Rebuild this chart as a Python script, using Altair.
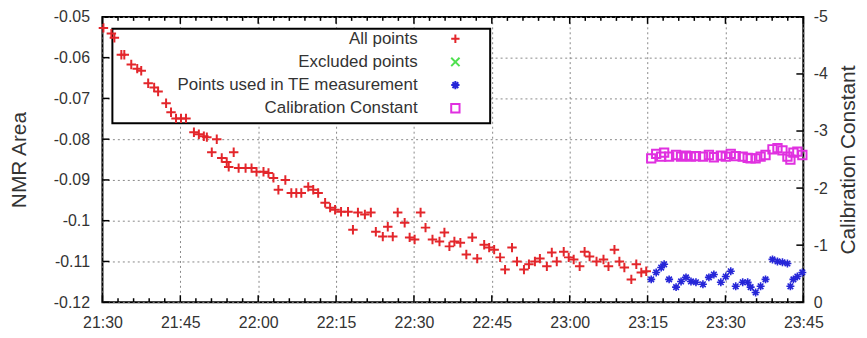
import altair as alt
import pandas as pd

# ---------------- data (minutes after 21:30) ----------------
red_t = [0.19, 1.72, 2.30, 3.64, 4.21, 5.55, 6.70, 7.47, 8.81, 9.96,
         10.72, 12.26, 13.21, 14.17, 15.13, 16.09, 17.62, 18.57, 19.53, 20.11,
         21.06, 22.02, 22.98, 23.94, 24.32, 25.28, 26.23, 27.57, 28.72, 29.68,
         31.02, 31.98, 32.94, 33.89, 35.23, 36.38, 37.34, 38.30, 39.64, 40.60,
         41.55, 42.89, 43.85, 44.81, 45.96, 47.30, 48.25, 49.21, 50.55, 51.70,
         52.66, 54.00, 54.96, 55.92, 56.87, 58.21, 59.17, 60.13, 61.28, 62.23,
         63.57, 64.92, 65.87, 66.83, 67.79, 68.94, 70.09, 71.23, 72.19, 73.53,
         74.49, 75.45, 76.60, 77.55, 78.89, 79.85, 81.19, 82.15, 83.30, 84.26,
         85.60, 86.55, 87.51, 88.85, 89.81, 90.77, 91.92, 92.87, 93.83, 95.17,
         96.51, 97.47, 98.62, 99.57, 100.53, 101.87, 102.83, 103.79, 104.74]
red_v = [-0.0527, -0.0541, -0.0551, -0.0593, -0.0593, -0.0617, -0.0627, -0.0632, -0.0663, -0.0673,
         -0.0683, -0.0712, -0.0734, -0.0749, -0.0749, -0.0749, -0.0783, -0.0788, -0.0793, -0.0795,
         -0.0832, -0.0800, -0.0846, -0.0856, -0.0868, -0.0832, -0.0871, -0.0871, -0.0871, -0.0880,
         -0.0880, -0.0883, -0.0895, -0.0924, -0.0900, -0.0932, -0.0932, -0.0932, -0.0917, -0.0924,
         -0.0932, -0.0956, -0.0968, -0.0973, -0.0978, -0.0978, -0.1022, -0.0980, -0.0985, -0.0980,
         -0.1027, -0.1039, -0.1015, -0.1039, -0.0980, -0.1005, -0.1041, -0.1046, -0.0980, -0.1017,
         -0.1046, -0.1051, -0.1029, -0.1063, -0.1051, -0.1054, -0.1083, -0.1041, -0.1093, -0.1059,
         -0.1066, -0.1071, -0.1090, -0.1120, -0.1066, -0.1100, -0.1120, -0.1107, -0.1100, -0.1093,
         -0.1112, -0.1078, -0.1100, -0.1076, -0.1090, -0.1095, -0.1112, -0.1076, -0.1088, -0.1100,
         -0.1095, -0.1112, -0.1071, -0.1100, -0.1115, -0.1144, -0.1107, -0.1127, -0.1124]

blue_t = [105.70, 106.66, 107.62, 108.19, 109.15, 110.49, 111.45, 112.40, 113.36, 114.32,
          115.66, 116.81, 117.77, 119.11, 120.06, 121.02, 121.98, 123.32, 124.28, 124.85,
          125.81, 126.77, 127.72, 129.06, 130.02, 130.98, 131.94, 132.51, 133.09, 133.85,
          134.81]
blue_v = [-0.1144, -0.1127, -0.1115, -0.1107, -0.1144, -0.1163, -0.1149, -0.1139, -0.1149, -0.1151,
          -0.1156, -0.1139, -0.1132, -0.1151, -0.1137, -0.1124, -0.1161, -0.1151, -0.1151, -0.1163,
          -0.1176, -0.1161, -0.1144, -0.1095, -0.1100, -0.1102, -0.1105, -0.1161, -0.1144, -0.1137,
          -0.1127]
cal_v = [-2.52, -2.60, -2.55, -2.62, -2.55, -2.58, -2.55, -2.57, -2.55, -2.56,
         -2.55, -2.58, -2.54, -2.57, -2.55, -2.60, -2.56, -2.55, -2.53, -2.52,
         -2.52, -2.55, -2.58, -2.68, -2.70, -2.66, -2.55, -2.50, -2.62, -2.64,
         -2.58]

x_tick_labels = ["21:30", "21:45", "22:00", "22:15", "22:30", "22:45",
                 "23:00", "23:15", "23:30", "23:45"]
y_left_ticks = [-0.12, -0.11, -0.1, -0.09, -0.08, -0.07, -0.06, -0.05]
y_right_ticks = [0, -1, -2, -3, -4, -5]

legend_labels = ["All points", "Excluded points",
                 "Points used in TE measurement", "Calibration Constant"]

# ---------------- styling ----------------
W, H = 705, 287
FONT = "Liberation Sans"
RED, GREEN, BLUE, MAGENTA = "#e3262b", "#4fe04f", "#2626d8", "#e030e0"
PLUS = "M-1,0L1,0M0,-1L0,1"
XCROSS = "M-1,-1L1,1M-1,1L1,-1"
STAR = "M-1,0L1,0M0,-1L0,1M-0.7,-0.7L0.7,0.7M-0.7,0.7L0.7,-0.7"

x_major = [15 * i for i in range(len(x_tick_labels))]
x_minor = [m for m in range(0, x_major[-1] + 1, 3) if m % 15 != 0]
label_js = "[" + ",".join("'%s'" % s for s in x_tick_labels) + "][round(datum.value/15)]"

xscale = alt.Scale(domain=[0, x_major[-1]], nice=False, zero=False)
yscale = alt.Scale(domain=[-0.12, -0.05], nice=False, zero=False)
y2scale = alt.Scale(domain=[-5, 0], reverse=True, nice=False, zero=False)

red_df = pd.DataFrame({"t": red_t, "area": red_v})
blue_df = pd.DataFrame({"t": blue_t, "area": blue_v})
cal_df = pd.DataFrame({"t": blue_t, "cal": cal_v})

x_axis = alt.Axis(values=x_major, labelExpr=label_js, grid=True, ticks=False,
                  domain=False, title=None, labelPadding=12, labelFlush=False,
                  labelOverlap=False, orient="bottom")
y_axis = alt.Axis(values=y_left_ticks, labelExpr="'' + datum.value", grid=True, ticks=False,
                  domain=False, title="NMR Area", labelPadding=13, orient="left",
                  titleX=-83, titleY=H / 2, titleAngle=270, titleAlign="center",
                  titleBaseline="middle", labelFlush=False, labelOverlap=False)
y2_axis = alt.Axis(orient="right", values=y_right_ticks, labelExpr="'' + datum.value",
                   grid=False, ticks=False, domain=False,
                   title="Calibration Constant", labelPadding=10,
                   titleX=45, titleY=H / 2, titleAngle=270, titleAlign="center",
                   titleBaseline="middle", labelFlush=False, labelOverlap=False)

X = alt.X("t:Q", scale=xscale, axis=x_axis)
Y = alt.Y("area:Q", scale=yscale, axis=y_axis)
Y2 = alt.Y("cal:Q", scale=y2scale, axis=y2_axis)

one = pd.DataFrame({"a": [0]})

legend_box = alt.Chart(one).mark_rect(fill="white", stroke="black", strokeWidth=2).encode(
    x=alt.value(10), x2=alt.value(390), y=alt.value(12), y2=alt.value(107))

red_pts = alt.Chart(red_df).mark_point(shape=PLUS, size=90, strokeWidth=2, color=RED,
                                       filled=False, opacity=1).encode(x=X, y=Y)
blue_pts = alt.Chart(blue_df).mark_point(shape=STAR, size=64, strokeWidth=1.6, color=BLUE,
                                         filled=False, opacity=1).encode(x=X, y=Y)

xt_major = pd.DataFrame({"t": x_major})
xt_minor = pd.DataFrame({"t": x_minor})
yt_left = pd.DataFrame({"area": y_left_ticks})
yt_right = pd.DataFrame({"cal": y_right_ticks})


def xticks(df, y0, y1):
    return alt.Chart(df).mark_rule(color="black", strokeWidth=1.5).encode(
        x=X, y=alt.value(y0), y2=alt.value(y1))


tick_layers = [
    xticks(xt_major, H, H - 7), xticks(xt_major, 0, 7),
    xticks(xt_minor, H, H - 4), xticks(xt_minor, 0, 4),
    alt.Chart(yt_left).mark_rule(color="black", strokeWidth=1.5).encode(
        y=Y, x=alt.value(0), x2=alt.value(7)),
]

left_group = alt.layer(legend_box, red_pts, blue_pts, *tick_layers)

cal_pts = alt.Chart(cal_df).mark_point(shape="square", size=70, strokeWidth=2, color=MAGENTA,
                                       filled=False, opacity=1).encode(x=X, y=Y2)
right_ticks = alt.Chart(yt_right).mark_rule(color="black", strokeWidth=1.5).encode(
    y=Y2, x=alt.value(W), x2=alt.value(W - 7))
right_group = alt.layer(cal_pts, right_ticks)

legend_colors = [RED, GREEN, BLUE, MAGENTA]
legend_shapes = [PLUS, XCROSS, STAR, "square"]
legend_layers = []
for i, lab in enumerate(legend_labels):
    row_y = 22 + i * 23.3
    legend_layers.append(
        alt.Chart(pd.DataFrame({"label": [lab]})).mark_text(
            align="right", baseline="middle", font=FONT, fontSize=17, color="#333").encode(
            text="label:N", x=alt.value(317), y=alt.value(row_y)))
    legend_layers.append(
        alt.Chart(one).mark_point(shape=legend_shapes[i], size=70, strokeWidth=2,
                                  color=legend_colors[i], filled=False, opacity=1).encode(
            x=alt.value(355), y=alt.value(row_y)))

chart = alt.layer(left_group, right_group, *legend_layers).resolve_scale(
    y="independent"
).properties(
    width=W, height=H,
    padding={"left": 95, "top": 8, "right": 56, "bottom": 27},
    autosize=alt.AutoSizeParams(type="none"),
).configure_view(
    stroke="black", strokeWidth=2
).configure_axis(
    labelFont=FONT, labelFontSize=16, labelColor="#333",
    titleFont=FONT, titleFontSize=21, titleFontWeight="normal", titleColor="#333",
    gridColor="#888", gridDash=[2, 3], gridWidth=1, gridOpacity=1,
)

chart.save("out.html", embed_options={"renderer": "svg", "actions": False})
